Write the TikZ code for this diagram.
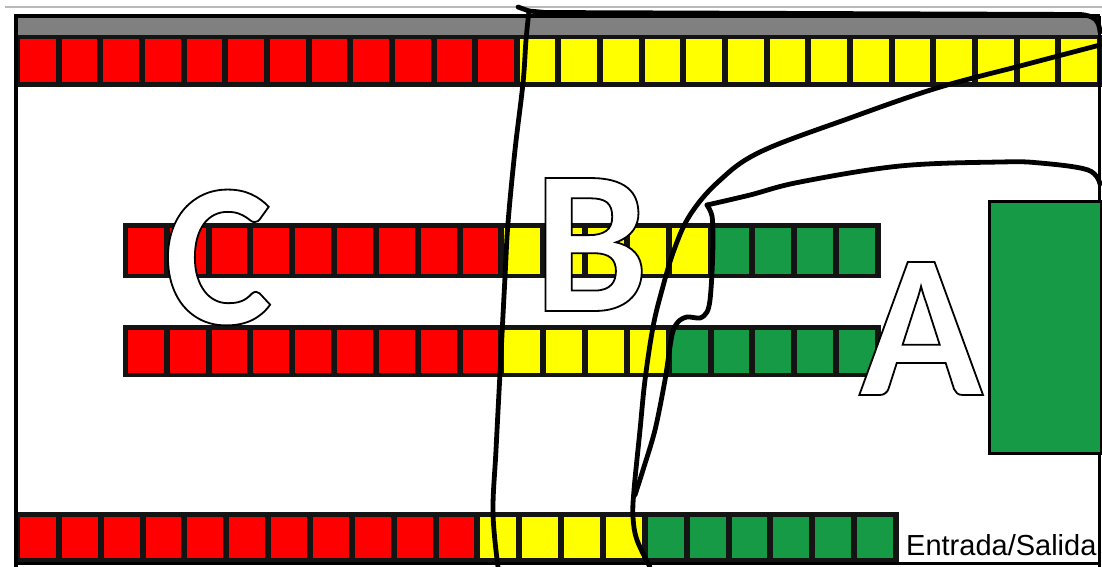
\documentclass[tikz,border=0pt]{standalone}
\usepackage{fontspec}
\setmainfont{Liberation Sans}
\newfontfamily\letterfont{Carlito}
\definecolor{cred}{RGB}{255,0,0}
\definecolor{cyel}{RGB}{255,255,0}
\definecolor{cgrn}{RGB}{22,154,70}
\definecolor{cgray}{RGB}{128,128,128}
\newcommand{\striprow}[6]{%
  \fill[black!92] ({#1-2.5},#3) rectangle ({#2+2.5},#4);
  \foreach \c [count=\i from 0] in {#6} {
    \fill[\c] ({#1+\i*#5+3},{#3+4.5}) rectangle ({#1+(\i+1)*#5-3},{#4-4.5});
  }%
}
\newcommand{\outlinedletter}[1]{%
  \special{pdf:literal direct 2 Tr 1.8 w 0 G 1 g}#1\special{pdf:literal direct 0 Tr 0 g}}
\begin{document}
\begin{tikzpicture}[x=1pt, y=-1pt,
  curve/.style={draw=black, line width=4.8pt, line cap=round, line join=round},
  frame/.style={draw=black, line width=3.8pt},
  bigl/.style={anchor=base, inner sep=0pt, font=\letterfont\bfseries\fontsize{205}{205}\selectfont}]
\useasboundingbox (0,0) rectangle (1102,567);
\fill[white] (0,0) rectangle (1102,567);
% thin top line
\draw[gray!55, line width=1.2pt] (5,7) -- (1102,7);
% gray bar
\fill[cgray] (16,16) rectangle (1100,36);
% top row: 12 red, 14 yellow
\striprow{17}{1100}{35}{87}{41.65}{cred,cred,cred,cred,cred,cred,cred,cred,cred,cred,cred,cred,cyel,cyel,cyel,cyel,cyel,cyel,cyel,cyel,cyel,cyel,cyel,cyel,cyel,cyel}
% middle row 1: 9 red, 5 yellow, 4 green
\striprow{125}{878}{223}{278}{41.83}{cred,cred,cred,cred,cred,cred,cred,cred,cred,cyel,cyel,cyel,cyel,cyel,cgrn,cgrn,cgrn,cgrn}
% middle row 2: 9 red, 4 yellow, 5 green
\striprow{125}{878}{325}{377}{41.83}{cred,cred,cred,cred,cred,cred,cred,cred,cred,cyel,cyel,cyel,cyel,cgrn,cgrn,cgrn,cgrn,cgrn}
% bottom row: 11 red, 4 yellow, 6 green
\striprow{17}{896}{512}{562}{41.86}{cred,cred,cred,cred,cred,cred,cred,cred,cred,cred,cred,cyel,cyel,cyel,cyel,cgrn,cgrn,cgrn,cgrn,cgrn,cgrn}
% frame
\draw[frame] (16,567) -- (16,16) -- (1100,16);
\draw[frame] (1099.5,16) -- (1099.5,567);
\draw[black, line width=3.8pt] (16,563.5) -- (1100,563.5);
% big green block
\node[draw=black, line width=3pt, fill=cgrn, minimum width=112pt, minimum height=252pt, inner sep=0pt, anchor=north west] (blk) at (988,200) {};
% label
\node[anchor=base west, inner sep=0pt, fill=white] (io) at (906,555) {\fontsize{29}{30}\selectfont Entrada/Salida};
% letters
\node[bigl] (lc) at (218,324) {\outlinedletter{C}};
\node[bigl] (lb) at (591,311) {\outlinedletter{B}};
\node[bigl] (la) at (921,395) {\outlinedletter{A}};
% curve 1
\draw[curve] (518,7) -- (529,11) -- (545,12.5) -- (1080,14.5) .. controls (1095,15.5) and (1099,21) .. (1100,32);
\draw[curve] plot[smooth, tension=0.6] coordinates {(529,11) (526,40) (523,83) (515,150) (508,223) (505,277) (500,373) (496,450) (493,513) (498,567)};
% curve 2
\draw[curve] plot[smooth, tension=0.6] coordinates {(1100,45) (1020,66) (937,88) (850,118) (760,152) (718,182) (690,215) (674,250) (662,290) (653,327) (645,380) (640,430) (634,490) (633,517) (637,540) (650,567)};
% curve 3
\draw[curve] plot[smooth, tension=0.6] coordinates {(1100,184) (1088,170) (1040,163) (1000,162) (900,166) (800,182) (750,195) (707,205)};
\draw[curve] plot[smooth, tension=0.5] coordinates {(707,205) (712,216) (713,240) (712,273) (710,300) (707,312) (700,318) (687,317) (678,322) (672,335) (665,380) (655,430) (643,470) (635,495)};
\end{tikzpicture}
\end{document}
